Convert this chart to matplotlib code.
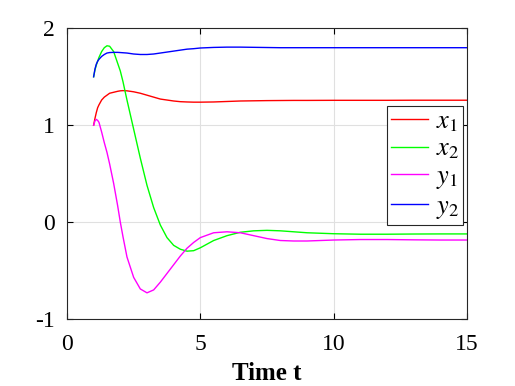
import matplotlib.pyplot as plt

plt.rcParams['font.family'] = ['Liberation Serif', 'DejaVu Serif']
plt.rcParams['mathtext.fontset'] = 'stix'
plt.rcParams['axes.unicode_minus'] = False

t = [1, 1.05, 1.1, 1.15, 1.2, 1.3, 1.4, 1.5, 1.6, 1.75, 1.9, 2, 2.1, 2.25, 2.5, 2.75, 3, 3.25, 3.5, 3.75,
     4, 4.25, 4.5, 4.75, 5, 5.5, 6, 6.5, 7, 7.5, 8, 8.5, 9, 10, 11, 12, 13, 14, 15]

x1 = [1.00, 1.07, 1.13, 1.18, 1.21, 1.26, 1.29, 1.31, 1.33, 1.34, 1.35, 1.355, 1.357, 1.355, 1.345, 1.33, 1.31, 1.29, 1.27, 1.26,
      1.25, 1.243, 1.24, 1.238, 1.238, 1.24, 1.245, 1.25, 1.252, 1.254, 1.255, 1.256, 1.256, 1.257, 1.257, 1.257, 1.258, 1.258, 1.258]

x2 = [1.50, 1.57, 1.62, 1.66, 1.70, 1.76, 1.80, 1.82, 1.815, 1.76, 1.64, 1.56, 1.45, 1.26, 0.96, 0.66, 0.38, 0.15, -0.03, -0.16,
      -0.24, -0.28, -0.30, -0.295, -0.265, -0.19, -0.14, -0.105, -0.09, -0.085, -0.09, -0.10, -0.11, -0.12, -0.125, -0.125, -0.123, -0.122, -0.122]

y1 = [1.00, 1.045, 1.06, 1.05, 1.03, 0.93, 0.82, 0.72, 0.60, 0.40, 0.17, 0.0, -0.15, -0.36, -0.57, -0.69, -0.73, -0.70, -0.62, -0.53,
      -0.44, -0.35, -0.27, -0.21, -0.16, -0.11, -0.10, -0.11, -0.14, -0.17, -0.19, -0.195, -0.195, -0.185, -0.18, -0.18, -0.183, -0.185, -0.185]

y2 = [1.50, 1.58, 1.63, 1.66, 1.68, 1.71, 1.73, 1.745, 1.75, 1.752, 1.752, 1.75, 1.748, 1.745, 1.735, 1.73, 1.73, 1.735, 1.745, 1.755,
      1.765, 1.775, 1.785, 1.79, 1.797, 1.803, 1.806, 1.806, 1.804, 1.802, 1.80, 1.80, 1.80, 1.80, 1.80, 1.80, 1.80, 1.80, 1.80]

fig = plt.figure(figsize=(5.15, 3.86), dpi=100)
ax = fig.add_axes([0.130, 0.1736, 0.777, 0.753])

ax.plot(t, x1, color='red', lw=1, label='$x_1$')
ax.plot(t, x2, color='#00ff00', lw=1, label='$x_2$')
ax.plot(t, y1, color='magenta', lw=1, label='$y_1$')
ax.plot(t, y2, color='blue', lw=1, label='$y_2$')

ax.set_xlim(0, 15)
ax.set_ylim(-1, 2)
ax.set_xticks([0, 5, 10, 15])
ax.set_yticks([-1, 0, 1, 2])
ax.grid(True, color='#e0e0e0', lw=0.8)
ax.tick_params(direction='in', top=True, right=True, labelsize=17, length=4)
ax.tick_params(axis='y', pad=9)
ax.tick_params(axis='x', pad=11)
for s in ax.spines.values():
    s.set_linewidth(0.8)
    s.set_color('#262626')

ax.set_xlabel('Time t', fontsize=18, fontweight='bold', labelpad=5)

leg = ax.legend(loc='upper right', bbox_to_anchor=(0.99, 0.732), fontsize=19,
                fancybox=False, framealpha=1, edgecolor='#262626',
                handlelength=1.4, handletextpad=0.3, borderpad=0.15, labelspacing=0.12,
                borderaxespad=0)
leg.get_frame().set_linewidth(0.8)

plt.savefig('out.png', dpi=100)
